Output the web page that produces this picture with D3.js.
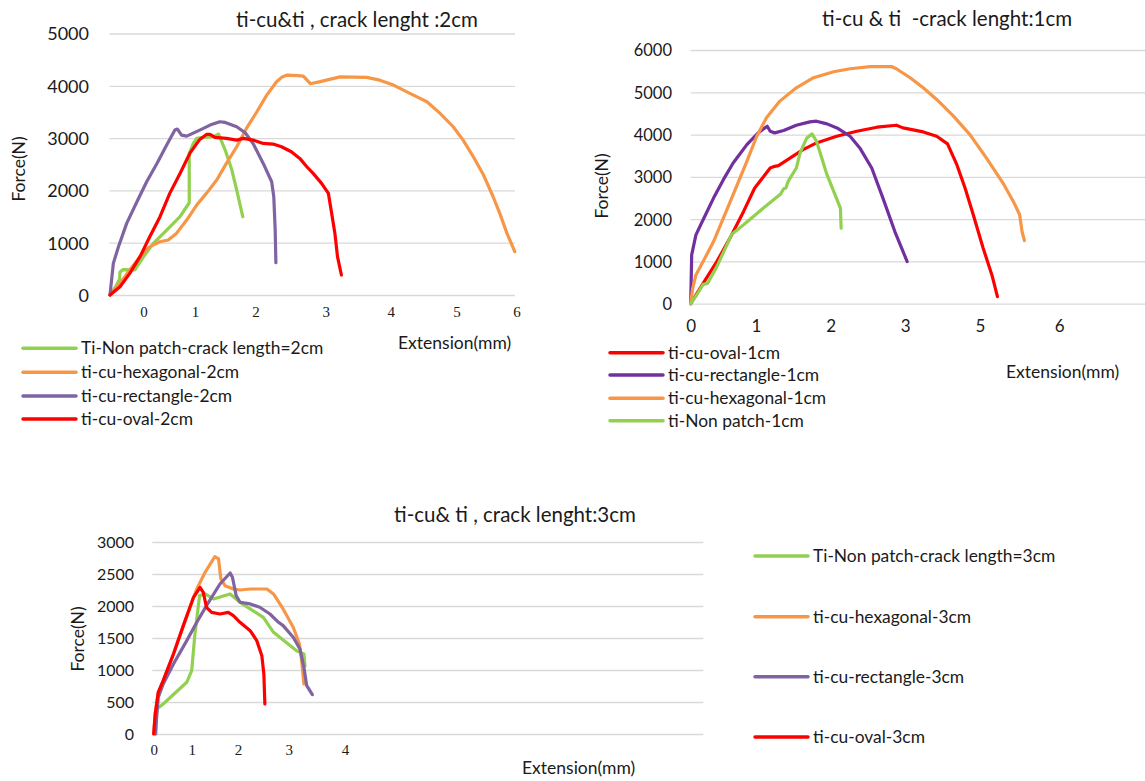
<!DOCTYPE html>
<html>
<head>
<script src="https://d3js.org/d3.v7.min.js"></script>
<style>
  body { margin: 0; background: #fff; }
  svg text { font-family: Lato, "Open Sans", sans-serif; fill: #1a1a1a; }
  svg text.serif { font-family: "Liberation Serif", "Times New Roman", serif; }
  .grid line { stroke: #d9d9d9; stroke-width: 1.3; }
  .curve { fill: none; stroke-width: 3.2; stroke-linejoin: round; stroke-linecap: round; }
</style>
</head>
<body>
<svg width="1145" height="781"></svg>
<script>
// ---- crack length 2 cm : [extension (mm), force (N)] ----
const nonPatch2cm = [[-0.655,0],[-0.55,150],[-0.47,300],[-0.46,440],[-0.4,485],[-0.17,480],[0,733],[0.19,987],[0.45,1242],[0.71,1497],[0.89,1764],[0.89,2707],[0.97,2898],[1.03,2994],[1.14,3013],[1.3,3026],[1.39,3077],[1.5,2771],[1.61,2389],[1.69,2007],[1.79,1497]];
const hexagonal2cm = [[-0.655,0],[-0.46,223],[-0.27,478],[-0.07,733],[0.12,924],[0.32,1019],[0.48,1051],[0.64,1178],[0.84,1433],[1.03,1720],[1.19,1943],[1.36,2198],[1.52,2516],[1.69,2835],[1.85,3185],[2.02,3504],[2.16,3822],[2.3,4077],[2.38,4170],[2.45,4205],[2.6,4195],[2.68,4185],[2.78,4040],[2.92,4080],[3.22,4170],[3.63,4160],[3.83,4108],[4.04,4013],[4.29,3854],[4.55,3695],[4.75,3472],[4.95,3217],[5.11,2962],[5.28,2643],[5.45,2293],[5.61,1879],[5.72,1561],[5.84,1178],[5.97,828]];
const rectangle2cm = [[-0.655,0],[-0.59,605],[-0.49,924],[-0.33,1370],[-0.13,1784],[0.06,2166],[0.26,2516],[0.45,2867],[0.61,3153],[0.66,3172],[0.74,3058],[0.84,3038],[1.08,3153],[1.25,3249],[1.41,3312],[1.5,3300],[1.69,3217],[1.83,3102],[1.96,2898],[2.11,2516],[2.23,2166],[2.26,1879],[2.28,1242],[2.29,618]];
const oval2cm = [[-0.655,0],[-0.46,159],[-0.27,414],[-0.07,733],[0.12,1115],[0.32,1497],[0.51,1943],[0.71,2325],[0.9,2707],[1.08,2975],[1.19,3070],[1.25,3070],[1.33,3013],[1.52,2994],[1.69,2962],[1.8,2994],[1.96,2962],[2.11,2898],[2.25,2886],[2.37,2835],[2.51,2739],[2.63,2612],[2.73,2452],[2.82,2325],[2.94,2134],[3.04,1943],[3.09,1561],[3.14,1178],[3.18,733],[3.24,382]];
const xTicks2cm = [0, 1, 2, 3, 4, 5, 6];
const yTicks2cm = [0, 1000, 2000, 3000, 4000, 5000];

// ---- crack length 1 cm ----
const oval1cm = [[0,0],[0.19,482],[0.4,996],[0.6,1549],[0.81,2182],[0.98,2735],[1.19,3209],[1.25,3249],[1.3,3265],[1.46,3447],[1.63,3644],[1.81,3802],[2.08,3960],[2.35,4079],[2.62,4174],[2.88,4221],[2.97,4158],[3.48,4063],[3.84,3960],[4.13,3779],[4.38,3288],[4.6,2735],[4.82,2103],[5.04,1312],[5.15,680],[5.22,166]];
const rectangle1cm = [[0,0],[0.015,1154],[0.08,1628],[0.19,1984],[0.35,2498],[0.5,2933],[0.65,3328],[0.86,3763],[1.03,4040],[1.15,4198],[1.19,4079],[1.25,4040],[1.37,4095],[1.54,4221],[1.72,4300],[1.81,4316],[1.95,4253],[2.1,4142],[2.26,3960],[2.39,3684],[2.55,3209],[2.7,2498],[2.86,1707],[3.05,996]];
const hexagonal1cm = [[0,0],[0.03,364],[0.08,680],[0.19,996],[0.35,1470],[0.5,2024],[0.65,2577],[0.86,3368],[1.01,3960],[1.14,4395],[1.32,4791],[1.54,5107],[1.77,5344],[2.04,5486],[2.26,5557],[2.53,5605],[2.82,5605],[2.88,5557],[3.13,5344],[3.48,5107],[3.84,4830],[4.29,4435],[4.73,4000],[5.08,3447],[5.29,2854],[5.42,2419],[5.5,2103],[5.53,1707],[5.56,1494]];
const nonPatch1cm = [[0,0],[0.09,206],[0.19,458],[0.26,482],[0.4,877],[0.63,1644],[0.81,1866],[1.1,2261],[1.33,2593],[1.37,2719],[1.4,2735],[1.43,2893],[1.54,3209],[1.59,3565],[1.68,3921],[1.75,4016],[1.81,3842],[1.95,3051],[2.13,2261],[2.14,1787]];
const xTicks1cm = [0, 1, 2, 3, 5, 6];
const yTicks1cm = [0, 1000, 2000, 3000, 4000, 5000, 6000];

// ---- crack length 3 cm ----
const nonPatch3cm = [[0.06,0],[0.08,391],[0.25,469],[0.87,808],[1.0,990],[1.07,1563],[1.17,2162],[1.29,2188],[1.47,2110],[1.83,2188],[2.04,2058],[2.5,1823],[2.7,1589],[3.14,1302],[3.27,1250],[3.29,1060]];
const hexagonal3cm = [[0,0],[0.04,313],[0.12,651],[0.25,834],[0.52,1250],[0.78,1693],[1.04,2136],[1.11,2266],[1.29,2527],[1.5,2772],[1.58,2735],[1.63,2423],[1.72,2318],[1.9,2266],[2.04,2250],[2.24,2266],[2.57,2266],[2.7,2188],[2.89,1954],[3.08,1667],[3.19,1407],[3.23,1146],[3.27,781]];
const rectangle3cm = [[0.04,0],[0.12,573],[0.25,781],[0.52,1094],[0.87,1459],[1.11,1745],[1.32,2006],[1.61,2344],[1.83,2516],[1.88,2449],[1.96,2162],[2.04,2058],[2.24,2032],[2.43,1980],[2.63,1875],[2.8,1745],[2.89,1693],[3.08,1511],[3.2,1329],[3.27,1042],[3.32,755],[3.42,615]];
const oval3cm = [[0,0],[0.04,313],[0.12,651],[0.25,834],[0.52,1250],[0.78,1693],[1.04,2136],[1.18,2292],[1.25,2214],[1.32,1980],[1.43,1901],[1.61,1875],[1.79,1901],[1.9,1849],[2.04,1745],[2.24,1615],[2.37,1459],[2.47,1224],[2.51,938],[2.53,469]];
const xTicks3cm = [0, 1, 2, 3, 4];
const yTicks3cm = [0, 500, 1000, 1500, 2000, 2500, 3000];

const GREEN = "#92d050", ORANGE = "#f79646", PURPLE = "#8064a2", DPURPLE = "#7030a0", RED = "#ff0000";

const svg = d3.select("svg");

// layout of the three panels (pixel positions only)
const panels = [
  {
    title: "ti-cu&ti , crack lenght :2cm", titleX: 236, titleY: 20,
    xTicks: xTicks2cm, xTickPx: [143.6, 194.9, 255.5, 325.8, 390.8, 456.5, 516.6],
    xLabelY: 312, xSerif: true, xLabelSize: 15,
    yTicks: yTicks2cm, yRange: [295, 33.5], yLabelX: 89, yLabelSize: 18,
    gridX: [109.5, 515], forceX: 19, forceY: 169,
    extX: 398, extY: 343,
    legendLine: [23, 76], legendTextX: 81, legendY: [348.3, 372.3, 396, 419],
    series: [
      {name: "Ti-Non patch-crack length=2cm", color: GREEN, values: nonPatch2cm},
      {name: "ti-cu-hexagonal-2cm", color: ORANGE, values: hexagonal2cm},
      {name: "ti-cu-rectangle-2cm", color: PURPLE, values: rectangle2cm},
      {name: "ti-cu-oval-2cm", color: RED, values: oval2cm}
    ]
  },
  {
    title: "ti-cu & ti  -crack lenght:1cm", titleX: 822, titleY: 19,
    xTicks: xTicks1cm, xTickPx: [690.7, 756, 830.7, 905.3, 980, 1059.3],
    xLabelY: 326, xSerif: false, xLabelSize: 17,
    yTicks: yTicks1cm, yRange: [303.7, 50], yLabelX: 672, yLabelSize: 16.5,
    gridX: [690.7, 1145], forceX: 602, forceY: 186,
    extX: 1006, extY: 372,
    legendLine: [610, 663], legendTextX: 668, legendY: [352.7, 375, 398.3, 420.7],
    series: [
      {name: "ti-cu-oval-1cm", color: RED, values: oval1cm},
      {name: "ti-cu-rectangle-1cm", color: DPURPLE, values: rectangle1cm},
      {name: "ti-cu-hexagonal-1cm", color: ORANGE, values: hexagonal1cm},
      {name: "ti-Non patch-1cm", color: GREEN, values: nonPatch1cm}
    ]
  },
  {
    title: "ti-cu& ti , crack lenght:3cm", titleX: 394, titleY: 515,
    xTicks: xTicks3cm, xTickPx: [153.7, 191.7, 238, 288.7, 345],
    xLabelY: 750, xSerif: true, xLabelSize: 15,
    yTicks: yTicks3cm, yRange: [734, 542], yLabelX: 134, yLabelSize: 16,
    gridX: [152.3, 703.3], forceX: 78, forceY: 639,
    extX: 522, extY: 768,
    legendLine: [755, 808], legendTextX: 813, legendY: [556, 616.7, 676.7, 737],
    series: [
      {name: "Ti-Non patch-crack length=3cm", color: GREEN, values: nonPatch3cm},
      {name: "ti-cu-hexagonal-3cm", color: ORANGE, values: hexagonal3cm},
      {name: "ti-cu-rectangle-3cm", color: PURPLE, values: rectangle3cm},
      {name: "ti-cu-oval-3cm", color: RED, values: oval3cm}
    ]
  }
];

function drawPanel(p) {
  const g = svg.append("g");

  // the typed-in axis labels sit at uneven spacing, so the scale is piecewise
  const x = d3.scaleLinear().domain(p.xTicks).range(p.xTickPx);
  const y = d3.scaleLinear().domain([0, d3.max(p.yTicks)]).range(p.yRange);

  // gridlines
  const grid = g.append("g")
    .attr("class", "grid")
    .attr("transform", "translate(" + p.gridX[0] + ",0)")
    .call(d3.axisLeft(y).tickValues(p.yTicks).tickSize(-(p.gridX[1] - p.gridX[0])).tickFormat(""));
  grid.select(".domain").remove();

  // y tick labels
  const yAxis = g.append("g")
    .attr("transform", "translate(" + p.yLabelX + ",0)")
    .call(d3.axisLeft(y).tickValues(p.yTicks).tickSize(0).tickPadding(0).tickFormat(d3.format("d")));
  yAxis.select(".domain").remove();
  yAxis.attr("font-family", null).attr("font-size", null);
  yAxis.selectAll("text").style("font-size", p.yLabelSize + "px").attr("dy", "0.36em");

  // x tick labels
  const xAxis = g.append("g")
    .attr("transform", "translate(0," + p.xLabelY + ")")
    .call(d3.axisBottom(x).tickValues(p.xTicks).tickSize(0).tickPadding(0).tickFormat(d3.format("d")));
  xAxis.select(".domain").remove();
  xAxis.attr("font-family", null).attr("font-size", null);
  xAxis.selectAll("text")
    .attr("class", p.xSerif ? "serif" : null)
    .attr("y", 0).attr("dy", "0.36em")
    .style("font-size", p.xLabelSize + "px");

  // curves
  const line = d3.line().x(d => x(d[0])).y(d => y(d[1]));
  p.series.forEach(s => {
    g.append("path")
      .datum(s.values)
      .attr("class", "curve")
      .style("stroke", s.color)
      .attr("d", line);
  });

  // title
  g.append("text")
    .attr("x", p.titleX).attr("y", p.titleY)
    .attr("dy", "0.35em")
    .style("font-size", "20.5px")
    .style("white-space", "pre")
    .text(p.title);

  // axis titles
  g.append("text")
    .attr("transform", "translate(" + p.forceX + "," + p.forceY + ") rotate(-90)")
    .attr("text-anchor", "middle")
    .attr("dy", "0.35em")
    .style("font-size", "17.5px")
    .text("Force(N)");

  g.append("text")
    .attr("x", p.extX).attr("y", p.extY)
    .attr("dy", "0.35em")
    .style("font-size", "17.5px")
    .text("Extension(mm)");

  // legend
  const legend = g.selectAll(".legend")
    .data(p.series)
    .enter().append("g")
    .attr("class", "legend")
    .attr("transform", (d, i) => "translate(0," + p.legendY[i] + ")");

  legend.append("line")
    .attr("x1", p.legendLine[0]).attr("x2", p.legendLine[1])
    .attr("y1", 0).attr("y2", 0)
    .style("stroke", d => d.color)
    .style("stroke-width", 3.5)
    .style("stroke-linecap", "round");

  legend.append("text")
    .attr("x", p.legendTextX)
    .attr("dy", "0.35em")
    .style("font-size", "17.4px")
    .text(d => d.name);
}

panels.forEach(drawPanel);
</script>
</body>
</html>
